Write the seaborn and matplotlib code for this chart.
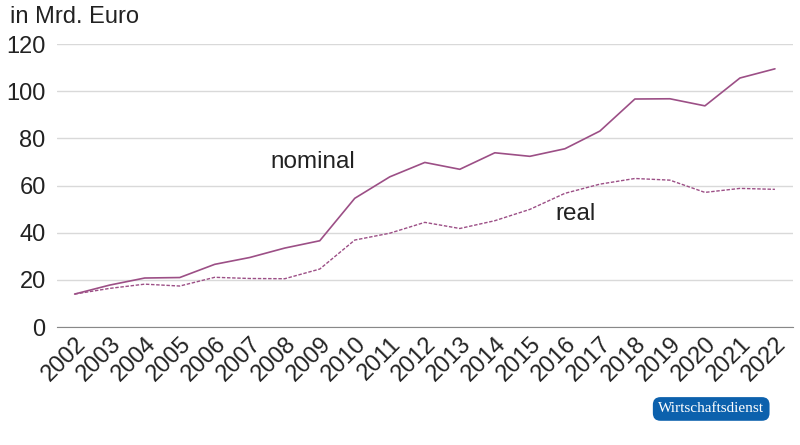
import matplotlib
matplotlib.use("Agg")
import matplotlib.pyplot as plt
import pandas as pd
import seaborn as sns

years = list(range(2002, 2023))
nominal = [14.0, 17.8, 20.8, 21.0, 26.6, 29.5, 33.5, 36.6, 54.6, 63.7, 69.8, 66.9,
           73.9, 72.4, 75.6, 83.1, 96.7, 96.8, 93.8, 105.6, 109.5]
real = [14.0, 16.4, 18.2, 17.4, 21.1, 20.6, 20.5, 24.6, 36.9, 39.8, 44.4, 41.8,
        45.1, 49.9, 56.7, 60.6, 63.0, 62.3, 57.1, 58.8, 58.4]
y_ticks = [0, 20, 40, 60, 80, 100, 120]

df = pd.DataFrame({'Jahr': years * 2,
                   'Wert': nominal + real,
                   'Reihe': ['nominal'] * len(years) + ['real'] * len(years)})

sns.set_style('white')
plt.rcParams['font.family'] = ['Liberation Sans', 'DejaVu Sans']

line_col = '#9c4f86'
txt_col = '#222222'
fig = plt.figure(figsize=(8, 4.45), dpi=100)
ax = fig.add_axes([0.071, 0.265, 0.92, 0.636])

sns.lineplot(data=df[df['Reihe'] == 'nominal'], x='Jahr', y='Wert', ax=ax,
             color=line_col, lw=1.2, legend=False)
sns.lineplot(data=df[df['Reihe'] == 'real'], x='Jahr', y='Wert', ax=ax,
             color=line_col, lw=1.0, ls=(0, (2.5, 1.2)), legend=False)

ax.set_xlim(2001.49, 2022.51)
ax.set_ylim(0, 120)
ax.set_yticks(y_ticks)
ax.set_xticks(years)
ax.set_xticklabels([str(y) for y in years], rotation=45, ha='right',
                   rotation_mode='anchor', fontsize=17, color=txt_col)
ax.tick_params(axis='y', labelsize=17, labelcolor=txt_col, length=0, pad=8)
ax.tick_params(axis='x', length=0, pad=4)
ax.yaxis.grid(True, color='#d9d9d9', lw=1)
ax.set_axisbelow(True)
for side in ['left', 'right', 'top']:
    ax.spines[side].set_visible(False)
ax.spines['bottom'].set_color('#888888')
ax.set_xlabel('')
ax.set_ylabel('')

ax.text(2008.8, 70, 'nominal', fontsize=17.5, color=txt_col, ha='center', va='center')
ax.text(2016.3, 48, 'real', fontsize=17.5, color=txt_col, ha='center', va='center')

fig.text(0.012, 0.962, 'in Mrd. Euro', fontsize=17, color=txt_col, va='center')
fig.text(0.889, 0.081, 'Wirtschaftsdienst', fontsize=11, color='white',
         family=['Liberation Serif', 'DejaVu Serif'], ha='center', va='center',
         bbox=dict(boxstyle='round,pad=0.35,rounding_size=0.5', fc='#0c61ad', ec='none'))

fig.savefig('out.png', dpi=100)
